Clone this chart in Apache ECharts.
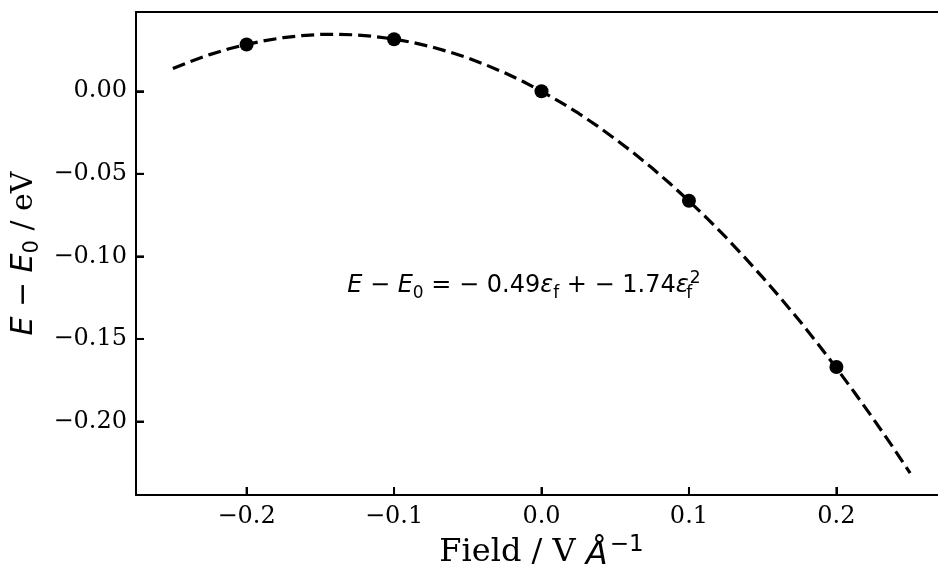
<!DOCTYPE html>
<html>
<head>
<meta charset="utf-8">
<script src="https://cdn.jsdelivr.net/npm/echarts@6/dist/echarts.min.js"></script>
<style>html,body{margin:0;padding:0;background:#fff}#c{width:938px;height:565px}</style>
</head>
<body>
<div id="c"></div>
<script>
// Measured data points (field in V/Å, energy in eV)
const fieldPoints = [-0.2, -0.1, 0.0, 0.1, 0.2];
const energyPoints = [0.0283, 0.0315, 0.0, -0.0663, -0.1670];
// Fitted curve
const fitX = [-0.25,-0.2375,-0.225,-0.2125,-0.2,-0.1875,-0.175,-0.1625,-0.15,-0.1375,-0.125,-0.1125,-0.1,-0.0875,-0.075,-0.0625,-0.05,-0.0375,-0.025,-0.0125,0,0.0125,0.025,0.0375,0.05,0.0625,0.075,0.0875,0.1,0.1125,0.125,0.1375,0.15,0.1625,0.175,0.1875,0.2,0.2125,0.225,0.2375,0.25];
const fitY = [0.0138,0.0182,0.0222,0.0256,0.0284,0.0307,0.0325,0.0337,0.0344,0.0345,0.0341,0.0331,0.0316,0.0296,0.0270,0.0238,0.0202,0.0159,0.0112,0.0059,0.0,-0.0064,-0.0133,-0.0208,-0.0289,-0.0374,-0.0465,-0.0562,-0.0664,-0.0771,-0.0884,-0.1003,-0.1127,-0.1256,-0.1390,-0.1530,-0.1676,-0.1827,-0.1983,-0.2145,-0.2313];
const xTicks = [-0.2, -0.1, 0.0, 0.1, 0.2];
const yTicks = [0.0, -0.05, -0.10, -0.15, -0.20];
const xRange = [-0.275, 0.275];
const yRange = [-0.2445, 0.048];
const annotationPos = [-0.012, -0.118];

const fmt = (v, d) => { const s = Math.abs(v).toFixed(d); return (v < -1e-9 ? '\u2212' : '') + s; };
const serif = 'DejaVu Serif';
const sans = 'DejaVu Sans';

const tickStyle = {show: true, inside: true, length: 8, lineStyle: {color: '#000', width: 2}};

const chart = echarts.init(document.getElementById('c'), null, {renderer: 'canvas'});
chart.setOption({
  animation: false,
  backgroundColor: '#fff',
  grid: {left: 136, top: 12, width: 811, height: 483, containLabel: false, outerBoundsMode: 'none'},
  xAxis: [{
    type: 'value', min: xRange[0], max: xRange[1], position: 'bottom',
    axisLine: {show: true, onZero: true, onZeroAxisIndex: 1, lineStyle: {color: '#000', width: 2}},
    axisTick: Object.assign({customValues: xTicks}, tickStyle),
    axisLabel: {show: true, customValues: xTicks, color: '#000', fontFamily: serif, fontSize: 24, margin: 10, formatter: v => fmt(v, 1)},
    splitLine: {show: false},
    name: 'Field / V {it|Å}{sup|\u22121}',
    nameLocation: 'middle', nameGap: 33,
    nameTextStyle: {
      color: '#000', fontFamily: serif, fontSize: 32, verticalAlign: 'top', lineHeight: 38,
      rich: {
        it: {fontFamily: sans, fontStyle: 'italic', fontSize: 32, color: '#000', lineHeight: 38, verticalAlign: 'bottom'},
        sup: {fontFamily: sans, fontSize: 23, color: '#000', lineHeight: 38, verticalAlign: 'top', padding: [0,0,0,2]}
      }
    }
  }, {
    type: 'value', min: 1, max: 2, position: 'top',
    axisLine: {show: true, onZero: false, lineStyle: {color: '#000', width: 2}},
    axisTick: {show: false}, axisLabel: {show: false}, splitLine: {show: false}
  }],
  yAxis: [{
    type: 'value', min: yRange[0], max: yRange[1], position: 'left',
    axisLine: {show: true, onZero: true, onZeroAxisIndex: 1, lineStyle: {color: '#000', width: 2}},
    axisTick: Object.assign({customValues: yTicks}, tickStyle),
    axisLabel: {show: true, customValues: yTicks, color: '#000', fontFamily: serif, fontSize: 24, margin: 9, formatter: v => fmt(v, 2)},
    splitLine: {show: false},
    name: '{it|E} {m|\u2212} {it|E}{sub|0} / eV',
    nameLocation: 'middle', nameGap: 89,
    nameTextStyle: {
      color: '#000', fontFamily: serif, fontSize: 30, lineHeight: 36,
      rich: {
        it: {fontFamily: sans, fontStyle: 'italic', fontSize: 30, color: '#000', lineHeight: 36},
        m: {fontFamily: sans, fontSize: 30, color: '#000', lineHeight: 36},
        sub: {fontFamily: sans, fontSize: 21, color: '#000', lineHeight: 22, verticalAlign: 'bottom'}
      }
    }
  }, {
    type: 'value', min: 1, max: 2, position: 'right', show: false
  }],
  series: [
    {
      type: 'line', xAxisIndex: 0, yAxisIndex: 0, data: fitX.map((x, i) => [x, fitY[i]]), showSymbol: false, symbol: 'none',
      lineStyle: {color: '#000', width: 3.2, type: [13, 6]}, z: 2
    },
    {
      type: 'scatter', xAxisIndex: 0, yAxisIndex: 0, data: fieldPoints.map((x, i) => [x, energyPoints[i]]),
      symbol: 'circle', symbolSize: 14, itemStyle: {color: '#000', opacity: 1}, z: 3
    },
    // inward tick marks on the bottom spine
    {
      type: 'scatter', xAxisIndex: 0, yAxisIndex: 0, clip: false, silent: true,
      data: xTicks.map(v => [v, yRange[0]]),
      symbol: 'rect', symbolSize: [2, 8], symbolOffset: [0, -4], itemStyle: {color: '#000', opacity: 1}, z: 4
    },
    // inward tick marks on the left spine
    {
      type: 'scatter', xAxisIndex: 0, yAxisIndex: 0, clip: false, silent: true,
      data: yTicks.map(v => [xRange[0], v]),
      symbol: 'rect', symbolSize: [8, 2], symbolOffset: [4, 0], itemStyle: {color: '#000', opacity: 1}, z: 4
    },
    {
      type: 'scatter', xAxisIndex: 0, yAxisIndex: 0, data: [annotationPos], symbolSize: 0, silent: true,
      itemStyle: {opacity: 1},
      label: {
        show: true, position: 'inside', align: 'center', verticalAlign: 'middle',
        fontFamily: sans, fontSize: 24, color: '#000', opacity: 1, lineHeight: 32,
        formatter: '{it|E} \u2212 {it|E}{sub|0} = \u2212 0.49{it|\u03b5}{sub|f} + \u2212 1.74{it|\u03b5}{subw|f}{sup|2}',
        rich: {
          it: {fontFamily: sans, fontStyle: 'italic', fontSize: 24, color: '#000', lineHeight: 32},
          sub: {fontFamily: sans, fontSize: 17, color: '#000', lineHeight: 18, verticalAlign: 'bottom'},
          subw: {fontFamily: sans, fontSize: 17, color: '#000', lineHeight: 18, verticalAlign: 'bottom', width: 1},
          sup: {fontFamily: sans, fontSize: 17, color: '#000', lineHeight: 18, verticalAlign: 'top'}
        }
      }
    }
  ]
});
</script>
</body>
</html>
